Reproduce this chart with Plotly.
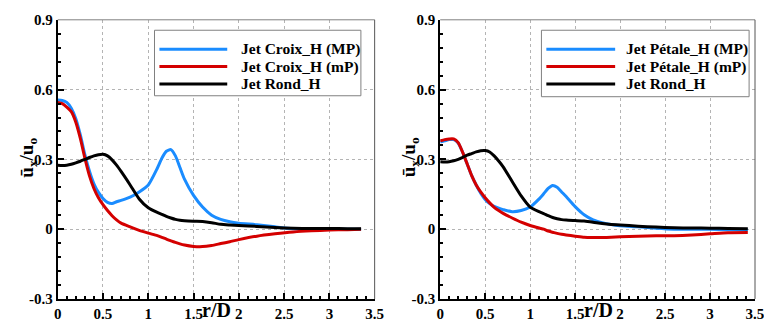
import plotly.graph_objects as go

# ---------------- data ----------------
r_left = [0, 0.05, 0.1, 0.15, 0.2, 0.25, 0.3, 0.35, 0.4, 0.45, 0.5, 0.55, 0.6, 0.65, 0.7,
          0.8, 0.9, 1.0, 1.1, 1.15, 1.2, 1.25, 1.3, 1.35, 1.4, 1.5, 1.6, 1.7, 1.8, 1.9,
          2.0, 2.2, 2.4, 2.6, 2.8, 3.0, 3.2, 3.35]
croix_MP = [0.555, 0.553, 0.545, 0.52, 0.475, 0.405, 0.32, 0.25, 0.195, 0.158, 0.132, 0.115,
            0.11, 0.118, 0.124, 0.138, 0.16, 0.19, 0.262, 0.305, 0.335, 0.342, 0.315, 0.265,
            0.215, 0.145, 0.095, 0.06, 0.042, 0.032, 0.026, 0.019, 0.01, 0.002, -0.001,
            -0.001, 0.0, 0.0]
croix_mP = [0.545, 0.54, 0.525, 0.505, 0.46, 0.39, 0.305, 0.23, 0.175, 0.135, 0.105, 0.08,
            0.058, 0.04, 0.026, 0.01, -0.005, -0.017, -0.028, -0.035, -0.043, -0.05, -0.057,
            -0.063, -0.068, -0.074, -0.075, -0.07, -0.062, -0.054, -0.045, -0.03, -0.02,
            -0.012, -0.007, -0.004, -0.002, 0.0]
rond_left = [0.275, 0.274, 0.275, 0.279, 0.285, 0.292, 0.3, 0.308, 0.315, 0.32, 0.322, 0.315,
             0.298, 0.275, 0.248, 0.19, 0.13, 0.092, 0.072, 0.064, 0.055, 0.048, 0.042, 0.038,
             0.036, 0.034, 0.033, 0.028, 0.021, 0.018, 0.016, 0.012, 0.007, 0.004, 0.003,
             0.003, 0.002, 0.002]

r_right = [0, 0.05, 0.1, 0.15, 0.2, 0.25, 0.3, 0.35, 0.4, 0.45, 0.5, 0.55, 0.6, 0.65, 0.7,
           0.8, 0.9, 1.0, 1.1, 1.15, 1.2, 1.25, 1.3, 1.35, 1.4, 1.5, 1.6, 1.7, 1.8, 1.9,
           2.0, 2.2, 2.4, 2.6, 2.8, 3.0, 3.2, 3.42]
petale_MP = [0.375, 0.38, 0.385, 0.385, 0.37, 0.33, 0.28, 0.23, 0.19, 0.155, 0.128, 0.11,
             0.098, 0.09, 0.084, 0.075, 0.08, 0.095, 0.13, 0.152, 0.175, 0.188, 0.18, 0.16,
             0.14, 0.097, 0.062, 0.04, 0.028, 0.02, 0.015, 0.01, 0.004, 0.0, 0.0, 0.0,
             -0.002, -0.003]
petale_mP = [0.38, 0.385, 0.388, 0.388, 0.372, 0.33, 0.28, 0.23, 0.19, 0.16, 0.135, 0.113,
             0.094, 0.08, 0.068, 0.048, 0.03, 0.016, 0.005, 0.0, -0.008, -0.013, -0.018,
             -0.022, -0.025, -0.03, -0.035, -0.036, -0.036, -0.035, -0.033, -0.03, -0.028,
             -0.028, -0.025, -0.02, -0.015, -0.014]
rond_right = [0.29, 0.289, 0.29, 0.294, 0.3, 0.309, 0.318, 0.325, 0.332, 0.337, 0.338, 0.332,
              0.315, 0.293, 0.268, 0.205, 0.143, 0.095, 0.075, 0.067, 0.058, 0.05, 0.045,
              0.041, 0.039, 0.037, 0.035, 0.03, 0.024, 0.02, 0.018, 0.013, 0.009, 0.006,
              0.005, 0.004, 0.003, 0.002]

names_left = ["Jet Croix_H (MP)", "Jet Croix_H (mP)", "Jet Rond_H"]
names_right = ["Jet Pétale_H (MP)", "Jet Pétale_H (mP)", "Jet Rond_H"]
y_ticks = [-0.3, 0, 0.3, 0.6, 0.9]
y_ticktext = ["-0.3", "0", "0.3", "0.6", "0.9"]
x_ticks = [0, 0.5, 1, 1.5, 2, 2.5, 3, 3.5]
x_ticktext = ["0", "0.5", "1", "1.5", "2", "2.5", "3", "3.5"]

# ---------------- style ----------------
PAGE_W, PAGE_H = 772, 333
BODY = 8  # default browser body margin on every side
W, H = PAGE_W - 2 * BODY, PAGE_H - 2 * BODY
BLUE, RED, BLACK = "#1a8cff", "#d40000", "#000000"
colors = [BLUE, RED, BLACK]
FONT = "Liberation Serif"


def px(x):
    return min(1.0, max(0.0, (x - BODY) / W))


def py(y):
    return min(1.0, max(0.0, 1 - (y - BODY) / H))


panels = [
    dict(x0=54.5, x1=377, r=r_left, ys=[croix_MP, croix_mP, rond_left], names=names_left,
         leg=(153, 23, 363, 92), sample=(158, 227), text_x=239),
    dict(x0=443.7, x1=765, r=r_right, ys=[petale_MP, petale_mP, rond_right], names=names_right,
         leg=(546.7, 23, 758, 93), sample=(551.7, 621.7), text_x=631),
]
plot_top, plot_bot = 12, 306

fig = go.Figure()
shapes, annotations = [], []
for i, p in enumerate(panels):
    sfx = "" if i == 0 else str(i + 1)
    for ys, name, c in zip(p["ys"], p["names"], colors):
        fig.add_trace(go.Scatter(x=p["r"], y=ys, mode="lines", name=name,
                                 line=dict(color=c, width=3, shape="spline", smoothing=0.6),
                                 xaxis="x" + sfx, yaxis="y" + sfx, showlegend=False))
    common = dict(showline=True, linecolor="black", linewidth=2, mirror=False,
                  ticks="inside", ticklen=6, tickwidth=1.5, tickcolor="black",
                  showgrid=True, gridcolor="#b4b4b4", griddash="dot", gridwidth=1,
                  zeroline=False, ticklabeloverflow="allow",
                  tickfont=dict(family=FONT, size=15, color="black", weight="bold"))
    fig.layout["xaxis" + sfx] = dict(
        domain=[px(p["x0"]), px(p["x1"])], range=[0, 3.5], anchor="y" + sfx,
        tickvals=x_ticks, ticktext=x_ticktext,
        minor=dict(dtick=0.1, tick0=0, ticks="inside", ticklen=3, tickcolor="black", showgrid=False),
        **common)
    fig.layout["yaxis" + sfx] = dict(
        domain=[py(plot_bot), py(plot_top)], range=[-0.3, 0.9], anchor="x" + sfx,
        tickvals=y_ticks, ticktext=y_ticktext,
        minor=dict(dtick=0.06, tick0=0, ticks="inside", ticklen=3, tickcolor="black", showgrid=False),
        **common)
    # top / right frame
    shapes.append(dict(type="line", xref="x%s domain" % sfx, yref="y%s domain" % sfx,
                       x0=0, x1=1, y0=1, y1=1, line=dict(color="#808080", width=1)))
    shapes.append(dict(type="line", xref="x%s domain" % sfx, yref="y%s domain" % sfx,
                       x0=1, x1=1, y0=0, y1=1, line=dict(color="#555555", width=1)))
    # legend box
    lx0, ly0, lx1, ly1 = p["leg"]
    shapes.append(dict(type="rect", xref="paper", yref="paper", x0=px(lx0), x1=px(lx1),
                       y0=py(ly1), y1=py(ly0), line=dict(color="#808080", width=1),
                       fillcolor="white", layer="above"))
    for k, (name, c) in enumerate(zip(p["names"], colors)):
        yy = 43 + 18.3 * k
        shapes.append(dict(type="line", xref="paper", yref="paper",
                           x0=px(p["sample"][0]), x1=px(p["sample"][1]), y0=py(yy), y1=py(yy),
                           line=dict(color=c, width=3), layer="above"))
        annotations.append(dict(xref="paper", yref="paper", x=px(p["text_x"]), y=py(yy),
                                xanchor="left", yanchor="middle", showarrow=False, text=name,
                                font=dict(family=FONT, size=15.5, color="black", weight="bold")))
    # axis titles
    xc = (p["x0"] + p["x1"]) / 2
    annotations.append(dict(xref="paper", yref="paper", x=px(xc), y=py(317.5), xanchor="center",
                            yanchor="middle", showarrow=False, text="r/D",
                            font=dict(family=FONT, size=20, color="black", weight="bold")))
    annotations.append(dict(xref="paper", yref="paper", x=px(p["x0"] - 30), y=py(157),
                            xanchor="center", yanchor="middle", showarrow=False, textangle=-90,
                            text="ū<sub>x</sub>/u<sub>o</sub>",
                            font=dict(family=FONT, size=19, color="black", weight="bold")))

fig.update_layout(width=W, height=H, margin=dict(l=0, r=0, t=0, b=0),
                  paper_bgcolor="white", plot_bgcolor="white",
                  shapes=shapes, annotations=annotations, showlegend=False)
fig.write_html("out.html", config={"responsive": False, "displayModeBar": False})
